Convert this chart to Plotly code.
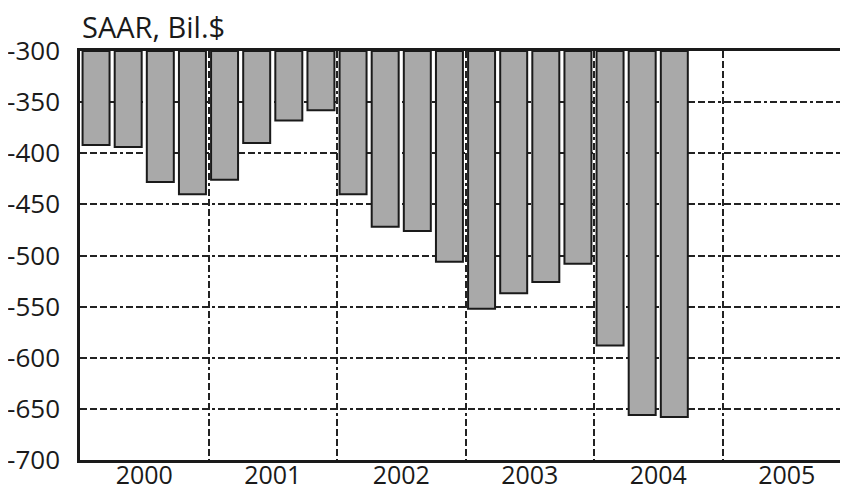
import plotly.graph_objects as go

# Data (quarterly, SAAR, Bil.$)
years = [2000]*4 + [2001]*4 + [2002]*4 + [2003]*4 + [2004]*3
quarters = [1, 2, 3, 4]*4 + [1, 2, 3]
values = [-392, -394, -428, -440,
          -426, -390, -368, -358,
          -440, -472, -476, -506,
          -552, -537, -526, -508,
          -588, -656, -658]
year_labels = ["2000", "2001", "2002", "2003", "2004", "2005"]
base_value = -300
y_ticks = [-300, -350, -400, -450, -500, -550, -600, -650, -700]

x_pos = [y + (q - 0.5) / 4 for y, q in zip(years, quarters)]
lengths = [v - base_value for v in values]

FONT = "Open Sans"
FS = 26
dash = "7px,3px,7px,3px,7px,3px,7px,3px,3px,3px"

fig = go.Figure()
fig.add_trace(go.Bar(
    x=x_pos, y=lengths, base=base_value,
    width=0.21,
    marker=dict(color="#a9a9a9", line=dict(color="#1a1a1a", width=2)),
    hoverinfo="skip",
))

x0 = int(year_labels[0])
fig.update_layout(
    width=840, height=483,
    margin=dict(l=72, r=0, t=43, b=31),
    paper_bgcolor="white", plot_bgcolor="white",
    showlegend=False,
    font=dict(family=FONT, size=FS, color="#1a1a1a"),
    xaxis=dict(
        range=[x0, x0 + 768 / 128.5],
        tickmode="array",
        tickvals=[int(y) + 0.5 for y in year_labels],
        ticktext=year_labels,
        showgrid=False,
        ticks="",
        showline=True, linecolor="#1a1a1a", linewidth=2.5, mirror=True,
        minor=dict(tickmode="linear", tick0=x0, dtick=1, showgrid=True,
                   gridcolor="#222222", gridwidth=2.2, griddash=dash, ticks=""),
        tickfont=dict(family=FONT, size=25, color="#1a1a1a"),
        ticklabelstandoff=-9,
        automargin=False,
        zeroline=False,
    ),
    yaxis=dict(
        range=[-700, -300],
        tickmode="array", tickvals=y_ticks,
        ticktext=[str(t) for t in y_ticks],
        showgrid=True, gridcolor="#222222", gridwidth=2.2, griddash=dash,
        showline=True, linecolor="#1a1a1a", linewidth=2.5,
        ticks="",
        ticklabelstandoff=12,
        automargin=False,
        tickfont=dict(family=FONT, size=FS, color="#1a1a1a"),
        zeroline=False,
    ),
    annotations=[dict(
        text="SAAR, Bil.$", xref="paper", yref="paper",
        x=0, y=1 + 25 / 409, xanchor="left", yanchor="middle",
        xshift=0, showarrow=False,
        font=dict(family=FONT, size=29, color="#1a1a1a"),
    )],
)

fig.write_html("out.html")
